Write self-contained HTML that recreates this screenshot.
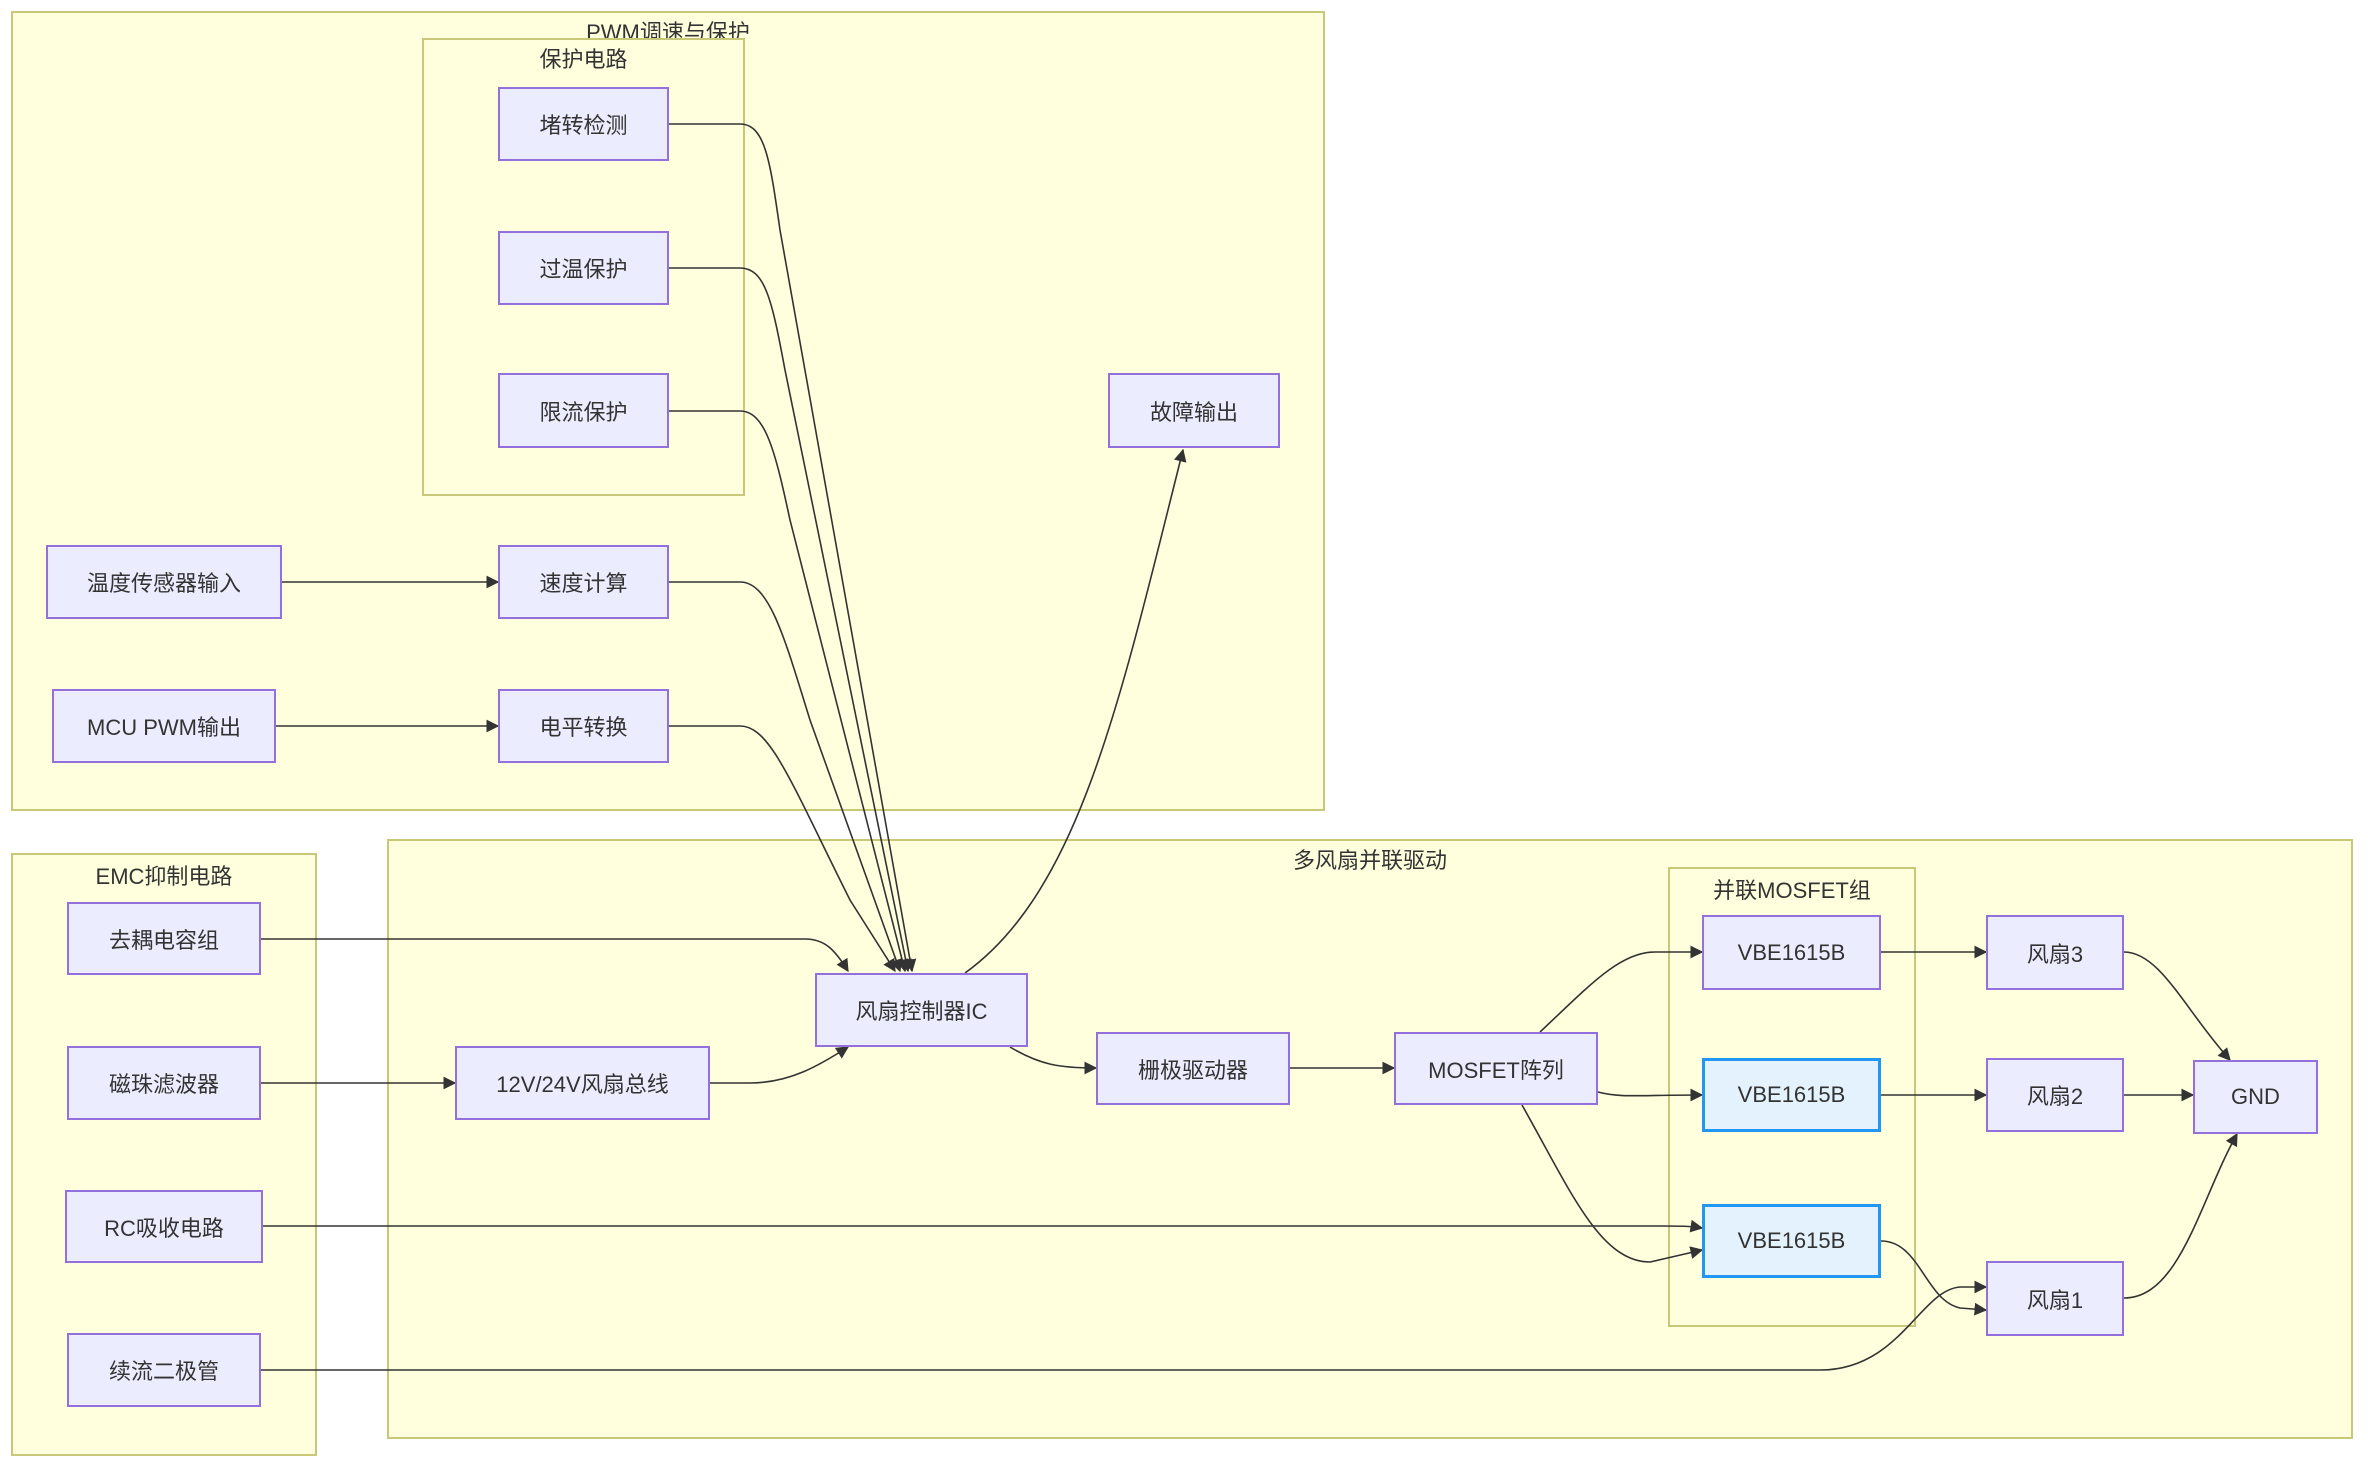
<!DOCTYPE html>
<html><head><meta charset="utf-8"><style>
html,body{margin:0;padding:0;background:#fff;}
body{width:2368px;height:1470px;position:relative;overflow:hidden;font-family:"Liberation Sans","Noto Sans CJK SC",sans-serif;}
.c{position:absolute;background:#ffffde;border:2px solid #c8c878;box-sizing:border-box;}
.ct{position:absolute;left:0;right:0;text-align:center;font-size:22px;color:#333;top:2px;}
.n{position:absolute;background:#ececff;border:2px solid #9370db;box-sizing:border-box;display:flex;align-items:center;justify-content:center;font-size:22px;color:#333;}
.b{background:#e3f2fd;border:3px solid #2196f3;}
svg{position:absolute;left:0;top:0;}
</style></head><body>
<div class="c" style="left:11px;top:11px;width:1314px;height:800px;"><div class="ct">PWM调速与保护</div></div>
<div class="c" style="left:422px;top:38px;width:323px;height:458px;"><div class="ct">保护电路</div></div>
<div class="c" style="left:11px;top:853px;width:306px;height:603px;"><div class="ct" style="top:4px">EMC抑制电路</div></div>
<div class="c" style="left:387px;top:839px;width:1966px;height:600px;"><div class="ct">多风扇并联驱动</div></div>
<div class="c" style="left:1668px;top:867px;width:248px;height:460px;"><div class="ct" style="top:4px">并联MOSFET组</div></div>

<svg width="2368" height="1470" viewBox="0 0 2368 1470">
<defs><marker id="a" viewBox="0 0 10 10" refX="9" refY="5" markerWidth="8" markerHeight="8" orient="auto"><path d="M0,0L10,5L0,10z" fill="#333"/></marker></defs>
<g fill="none" stroke="#333" stroke-width="1.6" marker-end="url(#a)">
<path d="M669,124 L740,124 C765,124 770,160 780,230 L912,971"/>
<path d="M669,268 L740,268 C765,268 772,300 785,370 L908,971"/>
<path d="M669,411 L740,411 C765,411 775,450 790,520 L905,971"/>
<path d="M669,582 L740,582 C770,582 785,640 810,720 L900,971"/>
<path d="M669,726 L740,726 C770,726 790,780 850,900 L895,971"/>
<path d="M965,973 C1080,890 1120,700 1183,450"/>
<path d="M282,582 L498,582"/>
<path d="M276,726 L498,726"/>
<path d="M261,939 L805,939 C825,939 835,950 848,971"/>
<path d="M261,1083 L455,1083"/>
<path d="M710,1083 L750,1083 C790,1083 820,1065 848,1047"/>
<path d="M1010,1047 C1040,1065 1060,1068 1096,1068"/>
<path d="M1290,1068 L1394,1068"/>
<path d="M1540,1032 C1590,985 1620,952 1655,952 L1702,952"/>
<path d="M1598,1092 C1620,1098 1640,1095 1702,1095"/>
<path d="M1522,1105 C1570,1190 1600,1262 1650,1262 L1702,1250"/>
<path d="M263,1226 L1660,1226 C1680,1226 1690,1226 1702,1228"/>
<path d="M1881,1241 C1920,1241 1925,1300 1960,1308 L1986,1310"/>
<path d="M261,1370 L1820,1370 C1900,1370 1920,1290 1960,1287 L1986,1287"/>
<path d="M1881,952 L1986,952"/>
<path d="M1881,1095 L1986,1095"/>
<path d="M2124,1095 L2193,1095"/>
<path d="M2124,952 C2160,952 2185,1010 2230,1060"/>
<path d="M2124,1298 C2180,1298 2200,1200 2237,1134"/>
</g></svg>

<div class="n" style="left:498px;top:87px;width:171px;height:74px;">堵转检测</div>
<div class="n" style="left:498px;top:231px;width:171px;height:74px;">过温保护</div>
<div class="n" style="left:498px;top:373px;width:171px;height:75px;">限流保护</div>
<div class="n" style="left:1108px;top:373px;width:172px;height:75px;">故障输出</div>
<div class="n" style="left:46px;top:545px;width:236px;height:74px;">温度传感器输入</div>
<div class="n" style="left:498px;top:545px;width:171px;height:74px;">速度计算</div>
<div class="n" style="left:52px;top:689px;width:224px;height:74px;">MCU PWM输出</div>
<div class="n" style="left:498px;top:689px;width:171px;height:74px;">电平转换</div>
<div class="n" style="left:67px;top:902px;width:194px;height:73px;">去耦电容组</div>
<div class="n" style="left:67px;top:1046px;width:194px;height:74px;">磁珠滤波器</div>
<div class="n" style="left:65px;top:1190px;width:198px;height:73px;">RC吸收电路</div>
<div class="n" style="left:67px;top:1333px;width:194px;height:74px;">续流二极管</div>
<div class="n" style="left:455px;top:1046px;width:255px;height:74px;">12V/24V风扇总线</div>
<div class="n" style="left:815px;top:973px;width:213px;height:74px;">风扇控制器IC</div>
<div class="n" style="left:1096px;top:1032px;width:194px;height:73px;">栅极驱动器</div>
<div class="n" style="left:1394px;top:1032px;width:204px;height:73px;">MOSFET阵列</div>
<div class="n" style="left:1702px;top:915px;width:179px;height:75px;">VBE1615B</div>
<div class="n b" style="left:1702px;top:1058px;width:179px;height:74px;">VBE1615B</div>
<div class="n b" style="left:1702px;top:1204px;width:179px;height:74px;">VBE1615B</div>
<div class="n" style="left:1986px;top:915px;width:138px;height:75px;">风扇3</div>
<div class="n" style="left:1986px;top:1058px;width:138px;height:74px;">风扇2</div>
<div class="n" style="left:1986px;top:1261px;width:138px;height:75px;">风扇1</div>
<div class="n" style="left:2193px;top:1060px;width:125px;height:74px;">GND</div>
</body></html>
